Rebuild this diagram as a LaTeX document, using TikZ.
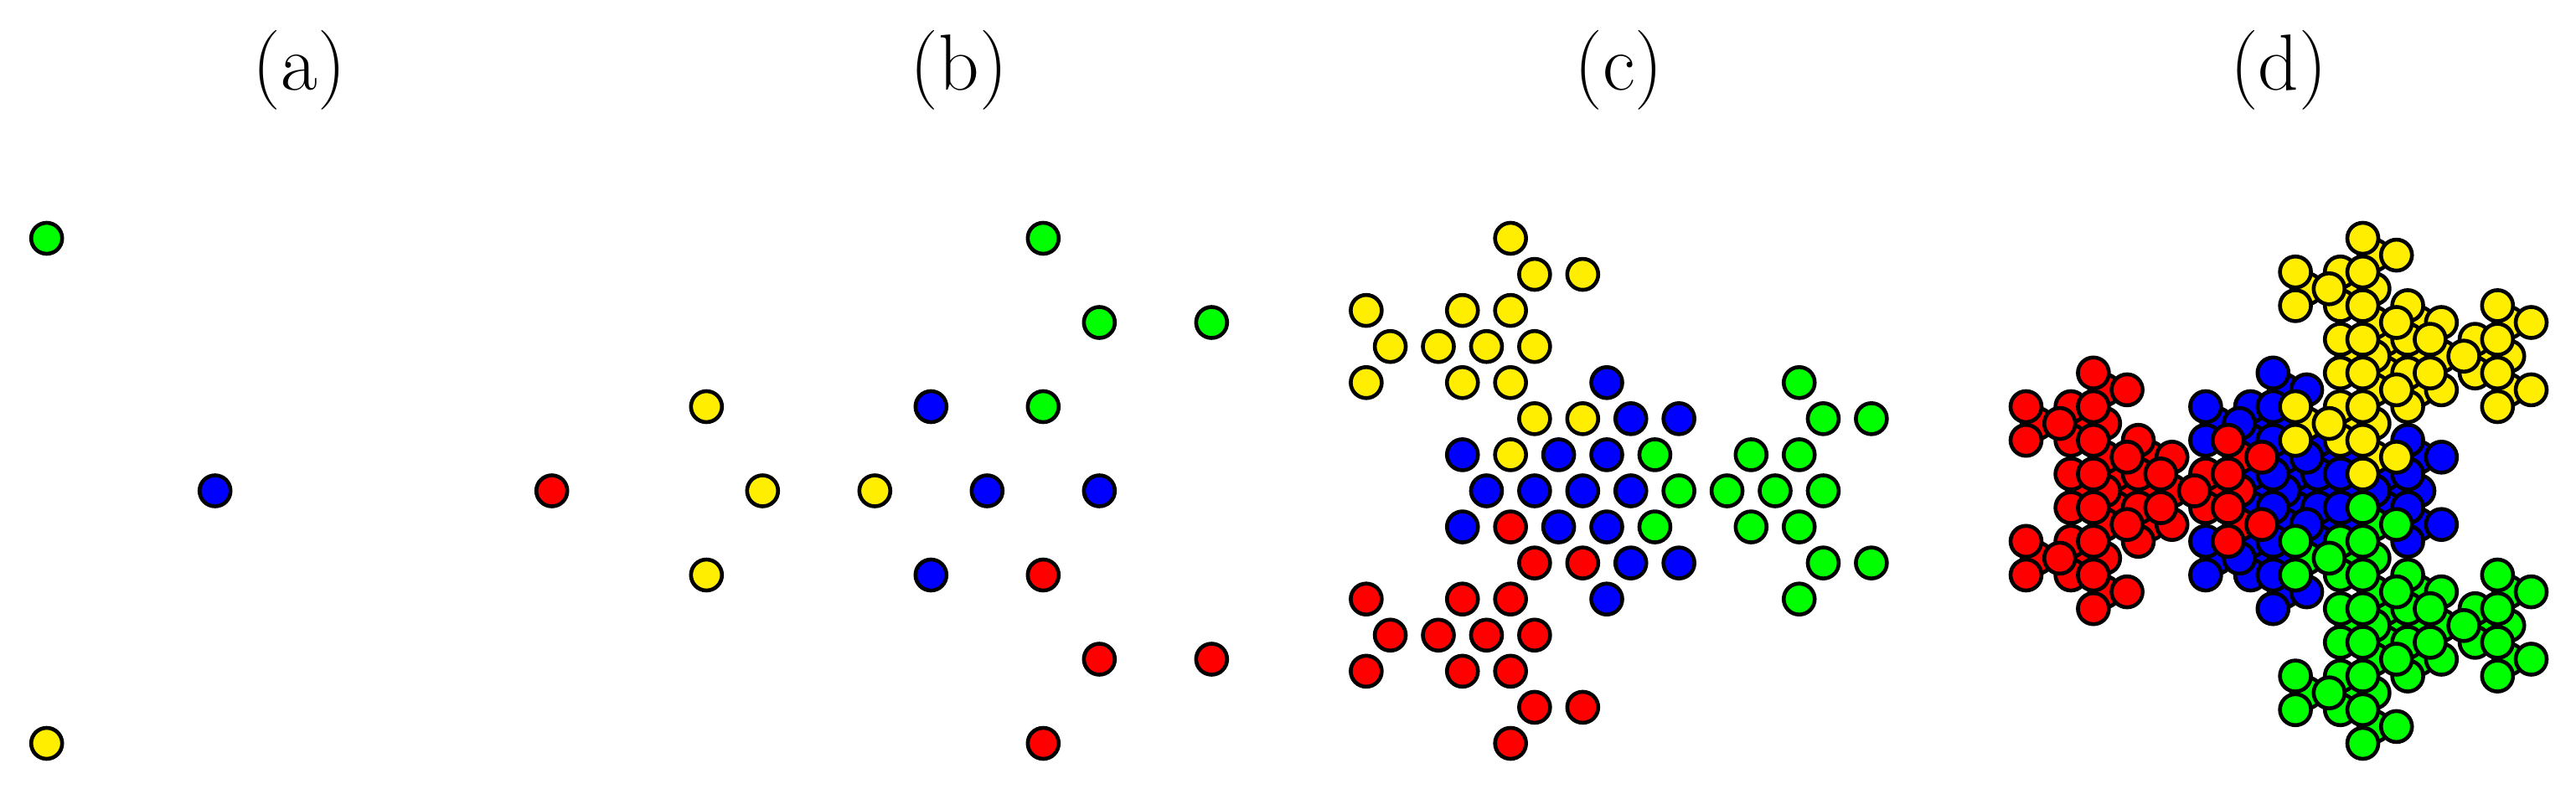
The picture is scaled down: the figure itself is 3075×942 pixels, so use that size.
\documentclass[tikz,border=0pt]{standalone}
\definecolor{cR}{RGB}{255,0,0}
\definecolor{cG}{RGB}{0,255,0}
\definecolor{cB}{RGB}{0,0,255}
\definecolor{cY}{RGB}{255,238,0}
\tikzset{dot/.style={draw=black, line width=1.15pt},
  lab/.style={anchor=base, inner sep=0pt, font=\fontsize{23.75pt}{28pt}\selectfont}}
\def\DX{{0,2,-1,-1}}
\def\DY{{0,0,-1.5,1.5}}
\def\U{201}
\def\CY{586}
\begin{document}
\begin{tikzpicture}[x=0.25pt,y=-0.25pt]
\useasboundingbox (0,0) rectangle (3075,942);
% labels
\node[lab] (la) at (357.2,108) {(a)};
\node[lab] (lb) at (1144.8,108) {(b)};
\node[lab] (lc) at (1932.4,108) {(c)};
\node[lab] (ld) at (2720,108) {(d)};
% panel (a)
\foreach \a in {0,...,3}{
  \pgfmathsetmacro\x{256.7+\U*\DX[\a]}
  \pgfmathsetmacro\y{\CY+\U*\DY[\a]}
  \pgfmathsetmacro\col{{"cB","cR","cG","cY"}[\a]}
  \draw[dot, fill=\col] (\x,\y) circle[radius=4.625pt];
}
% panel (b)
\foreach \a in {0,...,3}{
 \foreach \b in {0,...,3}{
  \pgfmathsetmacro\x{1178.3+\U*(-2*\DX[\a]+\DX[\b])/3}
  \pgfmathsetmacro\y{\CY+\U*(-2*\DY[\a]+\DY[\b])/3}
  \pgfmathsetmacro\col{{"cB","cY","cR","cG"}[\a]}
  \draw[dot, fill=\col] (\x,\y) circle[radius=4.625pt];
}}
% panel (c)
\foreach \a in {0,...,3}{
 \foreach \b in {0,...,3}{
  \foreach \c in {0,...,3}{
  \pgfmathsetmacro\x{1889.3+\U*(4*\DX[\a]-2*\DX[\b]+\DX[\c])/7}
  \pgfmathsetmacro\y{\CY+\U*(4*\DY[\a]-2*\DY[\b]+\DY[\c])/7}
  \pgfmathsetmacro\col{{"cB","cG","cY","cR"}[\a]}
  \draw[dot, fill=\col] (\x,\y) circle[radius=4.625pt];
}}}
% panel (d)
\foreach \a in {0,...,3}{
 \foreach \b in {0,...,3}{
  \foreach \c in {0,...,3}{
   \foreach \d in {0,...,3}{
  \pgfmathsetmacro\x{2753.5+\U*(-8*\DX[\a]+4*\DX[\b]-2*\DX[\c]+\DX[\d])/15}
  \pgfmathsetmacro\y{\CY+\U*(-8*\DY[\a]+4*\DY[\b]-2*\DY[\c]+\DY[\d])/15}
  \pgfmathsetmacro\col{{"cB","cR","cG","cY"}[\a]}
  \draw[dot, fill=\col] (\x,\y) circle[radius=4.625pt];
}}}}
\end{tikzpicture}
\end{document}
